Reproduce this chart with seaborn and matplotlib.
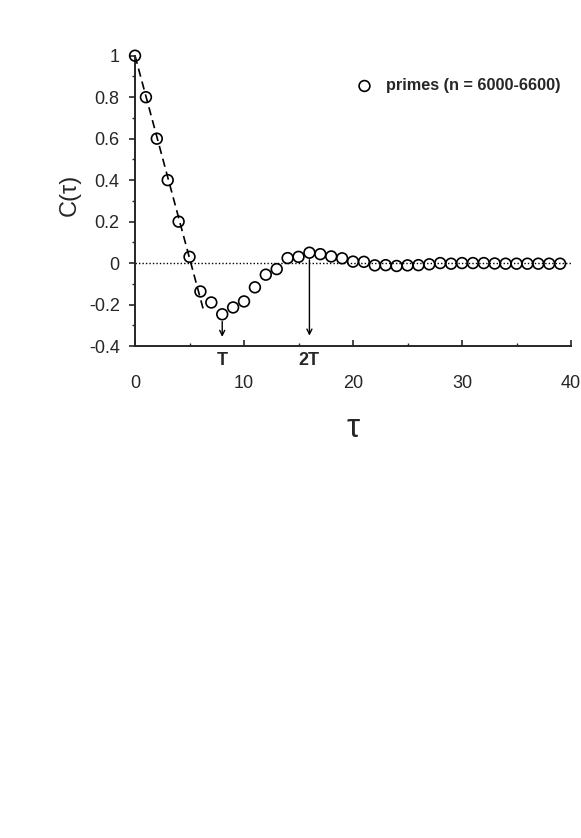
import numpy as np
import pandas as pd
import seaborn as sns
import matplotlib.pyplot as plt
from matplotlib.ticker import MultipleLocator

# autocorrelation of prime gaps
tau = list(range(40))
corr = [1.0, 0.80, 0.60, 0.40, 0.20, 0.03, -0.137, -0.19, -0.247, -0.214,
        -0.185, -0.117, -0.056, -0.029, 0.024, 0.030, 0.050, 0.043, 0.032, 0.023,
        0.007, 0.006, -0.011, -0.010, -0.014, -0.011, -0.010, -0.006, 0.0, -0.003,
        0.0, 0.0, 0.0, -0.002, -0.003, -0.003, -0.003, -0.003, -0.003, -0.003]

# dashed linear fit of the initial decay
fit_tau = [0.0, 6.35]
fit_c = [1.0, -0.24]

# arrows marking T and 2T: x, start and end of the shaft
arrow_x = [8, 16]
arrow_y0 = [-0.282, 0.016]
arrow_y1 = [-0.356, -0.35]
arrow_labels = ['T', '2T']

sns.set_style('ticks')
plt.rcParams['font.family'] = ['Liberation Sans', 'DejaVu Sans']

df = pd.DataFrame({'tau': tau, 'C': corr})
fit_df = pd.DataFrame({'tau': fit_tau, 'C': fit_c})

fig = plt.figure(figsize=(5.81, 8.38), dpi=100)
ax = fig.add_axes([0.2324, 0.5871, 0.7504, 0.3464])

ax.axhline(0, color='black', lw=1.0, ls=(0, (1, 1.5)), zorder=1)
sns.lineplot(data=fit_df, x='tau', y='C', ax=ax, color='black', lw=1.2,
             linestyle=(0, (5, 3)), zorder=2)
sns.scatterplot(data=df, x='tau', y='C', ax=ax, marker='o', s=60,
                facecolor='none', edgecolor='black', linewidth=1.2,
                clip_on=False, zorder=3, label='primes (n = 6000-6600)')

for x, y0, y1, lab in zip(arrow_x, arrow_y0, arrow_y1, arrow_labels):
    ax.annotate('', xy=(x, y1), xytext=(x, y0),
                arrowprops=dict(arrowstyle='->', color='black', lw=1.0,
                                mutation_scale=9, shrinkA=0, shrinkB=0))
    ax.text(x, -0.472, lab, ha='center', va='center', fontsize=13,
            fontweight='bold', clip_on=False)

ax.set_xlim(0, 40)
ax.set_ylim(-0.4, 1.0)
ax.xaxis.set_major_locator(MultipleLocator(10))
ax.xaxis.set_minor_locator(MultipleLocator(5))
ax.yaxis.set_minor_locator(MultipleLocator(0.1))
ax.set_yticks(np.arange(-0.4, 1.01, 0.2))
ax.set_yticklabels(['-0.4', '-0.2', '0', '0.2', '0.4', '0.6', '0.8', '1'])

ax.tick_params(axis='x', which='both', direction='in', pad=21, labelsize=13)
ax.tick_params(axis='x', which='major', length=4, width=1.2)
ax.tick_params(axis='x', which='minor', length=2.5, width=1.0)
ax.tick_params(axis='y', which='both', direction='out', pad=7, labelsize=13)
ax.tick_params(axis='y', which='major', length=4, width=1.2)
ax.tick_params(axis='y', which='minor', length=2.5, width=1.0)
for side in ['left', 'bottom']:
    ax.spines[side].set_linewidth(1.4)
sns.despine(ax=ax)

ax.set_xlabel('τ', fontsize=24)
ax.xaxis.set_label_coords(0.5, -0.283)
ax.xaxis.label.set_va('center')
ax.set_ylabel('C(τ)', fontsize=17)
ax.yaxis.set_label_coords(-0.149, 0.52)
ax.yaxis.label.set_va('center')

ax.legend(loc='center right', bbox_to_anchor=(0.975, 0.8966), frameon=False,
          borderpad=0, borderaxespad=0, handletextpad=0.3,
          prop={'weight': 'bold', 'size': 11.7})

fig.savefig('out.png', dpi=100)
